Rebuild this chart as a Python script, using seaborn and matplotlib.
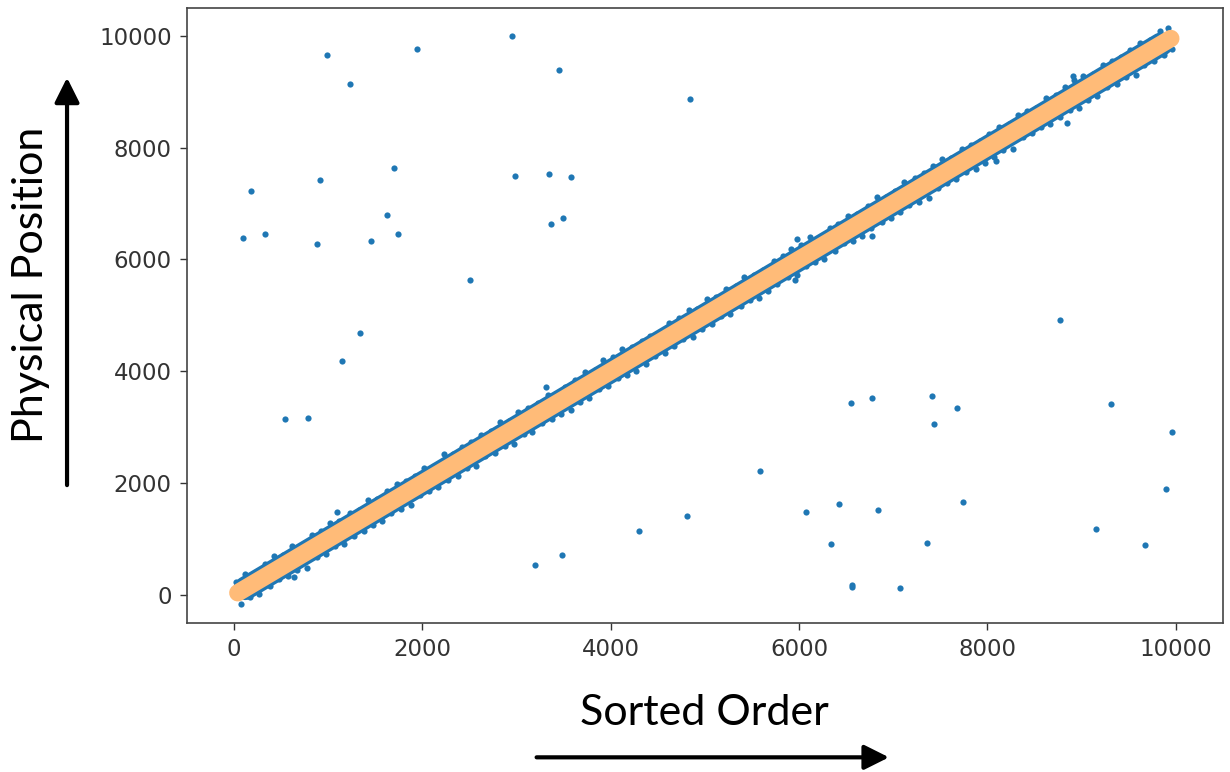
import matplotlib
matplotlib.use("Agg")
import matplotlib.pyplot as plt
import pandas as pd
import seaborn as sns

# Keys that landed far from their sorted slot
outlier_order = [991, 1235, 1939, 2950, 3452, 178, 910, 1702, 2985, 3343,
                 3576, 90, 327, 882, 1458, 1620, 1741, 3364, 3497, 2505,
                 4840, 1341, 1147, 546, 790, 3201, 3487,
                 4300, 4809, 5591, 6078, 6343, 6428, 6548, 6774, 6559, 6562,
                 6838, 7078, 7415, 7436, 7683, 7747, 7365, 8775, 9316, 9960,
                 9896, 9154, 9677]
outlier_position = [9660, 9135, 9767, 10000, 9391, 7219, 7416, 7636, 7488, 7529,
                    7482, 6383, 6462, 6270, 6324, 6802, 6455, 6634, 6736, 5631,
                    8867, 4689, 4176, 3149, 3161, 529, 720,
                    1144, 1418, 2224, 1490, 905, 1633, 3436, 3519, 183, 141,
                    1520, 124, 3554, 3065, 3346, 1663, 929, 4922, 3411, 2922,
                    1896, 1173, 893]

# Keys a little further off the diagonal than the rest of the band
stray_order = [8850, 6771, 8092, 8910, 5955, 5984, 1094, 3311, 634]
stray_position = [8440, 6410, 7762, 9273, 5626, 6360, 1490, 3715, 331]

# Keys that stayed close to their sorted slot: sorted order and displacement
near_order = [
    20, 75, 120, 170, 230, 270, 330, 380, 420, 475,
    520, 575, 620, 670, 730, 770, 830, 880, 920, 975,
    1020, 1075, 1120, 1170, 1230, 1270, 1330, 1380, 1420, 1475,
    1520, 1575, 1620, 1670, 1730, 1770, 1830, 1880, 1920, 1975,
    2020, 2075, 2120, 2170, 2230, 2270, 2330, 2380, 2420, 2475,
    2520, 2575, 2620, 2670, 2730, 2770, 2830, 2880, 2920, 2975,
    3020, 3075, 3120, 3170, 3230, 3270, 3330, 3380, 3420, 3475,
    3520, 3575, 3620, 3670, 3730, 3770, 3830, 3880, 3920, 3975,
    4020, 4075, 4120, 4170, 4230, 4270, 4330, 4380, 4420, 4475,
    4520, 4575, 4620, 4670, 4730, 4770, 4830, 4880, 4920, 4975,
    5020, 5075, 5120, 5170, 5230, 5270, 5330, 5380, 5420, 5475,
    5520, 5575, 5620, 5670, 5730, 5770, 5830, 5880, 5920, 5975,
    6020, 6075, 6120, 6170, 6230, 6270, 6330, 6380, 6420, 6475,
    6520, 6575, 6620, 6670, 6730, 6770, 6830, 6880, 6920, 6975,
    7020, 7075, 7120, 7170, 7230, 7270, 7330, 7380, 7420, 7475,
    7520, 7575, 7620, 7670, 7730, 7770, 7830, 7880, 7920, 7975,
    8020, 8075, 8120, 8170, 8230, 8270, 8330, 8380, 8420, 8475,
    8520, 8575, 8620, 8670, 8730, 8770, 8830, 8880, 8920, 8975,
    9020, 9075, 9120, 9170, 9230, 9270, 9330, 9380, 9420, 9475,
    9520, 9575, 9620, 9670, 9730, 9770, 9830, 9880, 9920, 9960,
]
near_displacement = [
    210, -230, 250, -200, 190, -260, 230, -210, 270, -190,
    200, -240, 260, -220, 180, -280, 240, -200, 220, -250,
    270, -190, 210, -260, 230, -210, 190, -240, 280, -220,
    190, -250, 240, -200, 260, -230, 210, -270, 200, -190,
    250, -210, 180, -240, 290, -220, 200, -250, 230, -200,
    220, -260, 240, -190, 200, -230, 270, -210, 190, -280,
    260, -200, 230, -250, 210, -190, 250, -230, 180, -240,
    200, -270, 220, -210, 260, -240, 190, -200, 280, -230,
    240, -190, 270, -230, 200, -260, 220, -250, 210, -200,
    190, -240, 250, -210, 230, -200, 260, -270, 200, -220,
    280, -230, 210, -190, 240, -250, 200, -220, 270, -200,
    210, -260, 190, -240, 250, -210, 230, -190, 260, -250,
    230, -200, 280, -220, 190, -270, 240, -230, 210, -190,
    250, -240, 200, -260, 220, -200, 290, -210, 190, -240,
    200, -220, 260, -190, 230, -250, 210, -280, 250, -200,
    270, -210, 190, -230, 240, -200, 220, -260, 200, -250,
    220, -250, 240, -210, 200, -290, 260, -200, 230, -220,
    190, -200, 270, -240, 210, -230, 250, -210, 280, -260,
    260, -230, 200, -250, 240, -190, 220, -240, 200, -210,
    230, -270, 250, -200, 190, -220, 260, -230, 210, -200,
]

# Dense core of the blue cloud and the fitted model line
core_order = [120, 9850]
core_position = [120, 9850]
fit_order = [40, 9950]
fit_position = [40, 9950]

x_ticks = [0, 2000, 4000, 6000, 8000, 10000]
y_ticks = [0, 2000, 4000, 6000, 8000, 10000]

BLUE = "#1f77b4"
ORANGE = "#ffbb78"

near_position = [o + d for o, d in zip(near_order, near_displacement)]
points = pd.DataFrame({
    "order": outlier_order + stray_order + near_order,
    "position": outlier_position + stray_position + near_position,
})

fig = plt.figure(figsize=(12.3, 7.72), dpi=100)
ax = fig.add_axes([0.152, 0.193, 0.842, 0.797])

sns.lineplot(x=core_order, y=core_position, ax=ax, color=BLUE,
             linewidth=17, solid_capstyle="round", zorder=1)
sns.scatterplot(data=points, x="order", y="position", ax=ax, color=BLUE,
                s=20, linewidth=0, zorder=2)
sns.lineplot(x=fit_order, y=fit_position, ax=ax, color=ORANGE,
             linewidth=12.5, solid_capstyle="round", zorder=3)

ax.set_xlim(-500, 10500)
ax.set_ylim(-500, 10500)
ax.set_xticks(x_ticks)
ax.set_yticks(y_ticks)
ax.tick_params(labelsize=16.5, length=5, width=1, pad=6, colors="#333333")
for sp in ax.spines.values():
    sp.set_color("#444444")
    sp.set_linewidth(1.2)
ax.set_xlabel("")
ax.set_ylabel("")

label_font = ["Lato", "DejaVu Sans"]
fig.text(0.573, 0.077, "Sorted Order", fontsize=31, family=label_font,
         ha="center", va="center")
fig.text(0.025, 0.631, "Physical Position", fontsize=31, family=label_font,
         ha="center", va="center", rotation=90)

fig.add_artist(matplotlib.patches.FancyArrowPatch(
    (0.434, 0.019), (0.725, 0.019), transform=fig.transFigure,
    arrowstyle="-|>,head_length=10,head_width=5", mutation_scale=1.5,
    linewidth=3, color="black"))
fig.add_artist(matplotlib.patches.FancyArrowPatch(
    (0.0545, 0.368), (0.0545, 0.903), transform=fig.transFigure,
    arrowstyle="-|>,head_length=10,head_width=5", mutation_scale=1.5,
    linewidth=3, color="black"))

fig.savefig("out.png", dpi=100)
